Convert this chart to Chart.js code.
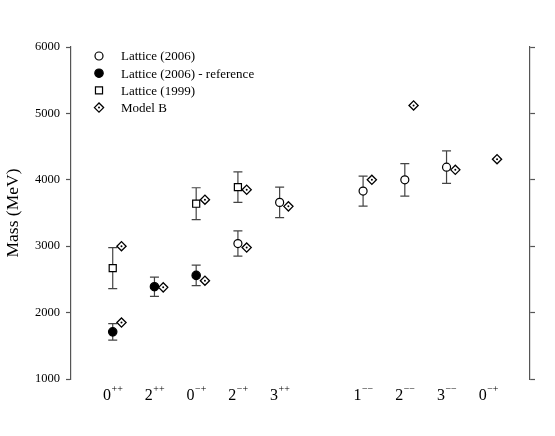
<!DOCTYPE html>
<html>
<head>
<meta charset="utf-8">
<script src="https://cdn.jsdelivr.net/npm/chart.js@4.4.1/dist/chart.umd.min.js"></script>
<style>
html, body { margin: 0; padding: 0; background: #fff; }
#wrap { width: 555px; height: 436px; }
</style>
</head>
<body>
<div id="wrap"><canvas id="chart"></canvas></div>
<script>
// states on the x axis (J then PC) and where they sit (gap between 3++ and 1--)
var stateJ = ['0', '2', '0', '2', '3', '1', '2', '3', '0'];
var statePC = ['++', '++', '-+', '-+', '++', '--', '--', '--', '-+'];
var statePos = [1, 2, 3, 4, 5, 7, 8, 9, 10];
var massTicks = [1000, 2000, 3000, 4000, 5000, 6000];

// Lattice (2006)
var lat06Idx = [3, 4, 5, 6, 7];
var lat06Mass = [3040, 3660, 3830, 4000, 4190];
var lat06Err = [190, 230, 225, 245, 245];

// Lattice (2006) - reference
var refIdx = [0, 1, 2];
var refMass = [1710, 2390, 2560];
var refErr = [125, 145, 155];

// Lattice (1999)
var lat99Idx = [0, 2, 3];
var lat99Mass = [2670, 3640, 3890];
var lat99Err = [310, 240, 230];

// Model B
var modelIdx = [0, 0, 1, 2, 2, 3, 3, 4, 5, 6, 7, 8];
var modelMass = [1850, 3000, 2380, 2480, 3700, 2980, 3850, 3600, 4000, 5120, 4150, 4310];

var FONT = "'Liberation Serif', 'Times New Roman', serif";
var modelShift = 0.21;

function pts(idx, mass, shift) {
  return idx.map(function (k, i) { return { x: statePos[k] + (shift || 0), y: mass[i] }; });
}

// vertical error bars with caps, drawn under the markers
var errorBars = {
  id: 'errorBars',
  beforeDatasetsDraw: function (chart) {
    var ctx = chart.ctx, xs = chart.scales.x, ys = chart.scales.y;
    ctx.save();
    ctx.strokeStyle = '#444';
    ctx.lineWidth = 1.2;
    chart.data.datasets.forEach(function (ds) {
      if (!ds.errors) return;
      ds.data.forEach(function (p, j) {
        var e = ds.errors[j];
        var px = xs.getPixelForValue(p.x);
        var top = ys.getPixelForValue(p.y + e);
        var bot = ys.getPixelForValue(p.y - e);
        ctx.beginPath();
        ctx.moveTo(px, top); ctx.lineTo(px, bot);
        ctx.moveTo(px - 4.5, top); ctx.lineTo(px + 4.5, top);
        ctx.moveTo(px - 4.5, bot); ctx.lineTo(px + 4.5, bot);
        ctx.stroke();
      });
    });
    ctx.restore();
  },
  afterDatasetsDraw: function (chart) {
    // centre dot in the diamonds
    var ctx = chart.ctx;
    chart.data.datasets.forEach(function (ds, i) {
      if (!ds.centreDot) return;
      chart.getDatasetMeta(i).data.forEach(function (el) {
        ctx.beginPath();
        ctx.fillStyle = '#000';
        ctx.arc(el.x, el.y, 1, 0, Math.PI * 2);
        ctx.fill();
      });
    });
  }
};

// x labels: J with the PC signs as superscript
var stateLabels = {
  id: 'stateLabels',
  afterDraw: function (chart) {
    var ctx = chart.ctx, xs = chart.scales.x;
    var base = xs.bottom - 36;
    ctx.save();
    ctx.fillStyle = '#000';
    ctx.textBaseline = 'alphabetic';
    ctx.textAlign = 'left';
    statePos.forEach(function (v, i) {
      var sup = statePC[i].replace(/-/g, '\u2212');
      ctx.font = '16px ' + FONT;
      var wb = ctx.measureText(stateJ[i]).width;
      ctx.font = '10px ' + FONT;
      var ws = ctx.measureText(sup).width;
      var x = xs.getPixelForValue(v) - (wb + ws) / 2;
      ctx.font = '16px ' + FONT;
      ctx.fillText(stateJ[i], x, base);
      ctx.font = '10px ' + FONT;
      ctx.fillText(sup, x + wb + 0.5, base - 8);
    });
    ctx.restore();
  }
};

// legend in the upper left of the plot
var cornerLegend = {
  id: 'cornerLegend',
  afterDraw: function (chart) {
    var ctx = chart.ctx;
    var x0 = chart.chartArea.left + 28, y0 = chart.chartArea.top + 9;
    ctx.save();
    chart.data.datasets.forEach(function (ds, i) {
      var y = y0 + i * 17.2;
      ctx.fillStyle = ds.backgroundColor;
      ctx.strokeStyle = ds.borderColor;
      ctx.lineWidth = ds.borderWidth;
      Chart.helpers.drawPoint(ctx, { pointStyle: ds.pointStyle, radius: ds.pointRadius, rotation: 0, borderWidth: ds.borderWidth }, x0, y);
      if (ds.centreDot) {
        ctx.beginPath();
        ctx.fillStyle = '#000';
        ctx.arc(x0, y, 1, 0, Math.PI * 2);
        ctx.fill();
      }
      ctx.fillStyle = '#000';
      ctx.font = '13px ' + FONT;
      ctx.textBaseline = 'middle';
      ctx.textAlign = 'left';
      ctx.fillText(ds.label, x0 + 22, y + 1);
    });
    ctx.restore();
  }
};

new Chart(document.getElementById('chart'), {
  type: 'scatter',
  data: {
    datasets: [
      {
        label: 'Lattice (2006)',
        data: pts(lat06Idx, lat06Mass),
        errors: lat06Err,
        pointStyle: 'circle', pointRadius: 4,
        backgroundColor: '#fff', borderColor: '#000', borderWidth: 1.2,
        order: 2
      },
      {
        label: 'Lattice (2006) - reference',
        data: pts(refIdx, refMass),
        errors: refErr,
        pointStyle: 'circle', pointRadius: 4.2,
        backgroundColor: '#000', borderColor: '#000', borderWidth: 1.2,
        order: 2
      },
      {
        label: 'Lattice (1999)',
        data: pts(lat99Idx, lat99Mass),
        errors: lat99Err,
        pointStyle: 'rect', pointRadius: 5,
        backgroundColor: '#fff', borderColor: '#000', borderWidth: 1.2,
        order: 2
      },
      {
        label: 'Model B',
        data: pts(modelIdx, modelMass, modelShift),
        centreDot: true,
        pointStyle: 'rectRot', pointRadius: 4.6,
        backgroundColor: '#fff', borderColor: '#000', borderWidth: 1.3,
        order: 1
      }
    ]
  },
  options: {
    responsive: true,
    maintainAspectRatio: false,
    animation: false,
    events: [],
    layout: { padding: { top: 47, left: 0, right: 0, bottom: 0 } },
    plugins: { legend: { display: false }, tooltip: { enabled: false } },
    scales: {
      x: {
        type: 'linear', min: 0, max: 11,
        afterBuildTicks: function (s) { s.ticks = statePos.map(function (v) { return { value: v }; }); },
        afterFit: function (s) { s.height = 57; },
        grid: { display: false },
        border: { display: false },
        ticks: { display: false }
      },
      y: {
        position: 'left', min: 1000, max: 6000,
        afterBuildTicks: function (s) { s.ticks = massTicks.map(function (v) { return { value: v }; }); },
        afterFit: function (s) { s.width = 71; },
        grid: { drawOnChartArea: false, tickLength: 5, tickColor: '#555', tickWidth: 1.2 },
        border: { color: '#555', width: 1.2 },
        ticks: {
          padding: 6, color: '#000', font: { family: FONT, size: 12.5 },
          callback: function (v) { return String(v); }
        },
        title: { display: true, text: 'Mass (MeV)', color: '#000', font: { family: FONT, size: 17.5 }, padding: { top: 3, bottom: 0 } }
      },
      y2: {
        position: 'right', min: 1000, max: 6000,
        afterBuildTicks: function (s) { s.ticks = massTicks.map(function (v) { return { value: v }; }); },
        afterFit: function (s) { s.width = 25; },
        grid: { drawOnChartArea: false, tickLength: 5, tickColor: '#555', tickWidth: 1.2 },
        border: { color: '#555', width: 1.2 },
        ticks: { display: false }
      }
    }
  },
  plugins: [errorBars, stateLabels, cornerLegend]
});
</script>
</body>
</html>
